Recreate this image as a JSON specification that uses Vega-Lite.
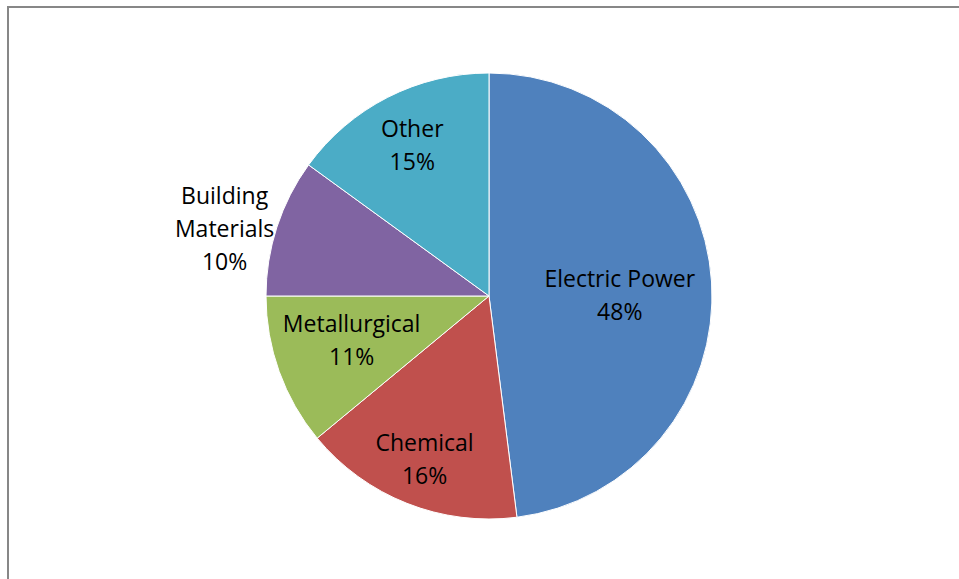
{
  "$schema": "https://vega.github.io/schema/vega-lite/v6.json",
  "autosize": "none",
  "width": 962,
  "height": 578,
  "padding": {"left": 8, "top": 7, "right": 0, "bottom": 0},
  "background": "white",
  "view": {"stroke": "#878787", "strokeWidth": 2},
  "data": {
    "values": [
      {"category": "Electric Power", "pct": 48},
      {"category": "Chemical", "pct": 16},
      {"category": "Metallurgical", "pct": 11},
      {"category": "Building Materials", "pct": 10},
      {"category": "Other", "pct": 15}
    ]
  },
  "transform": [
    {"window": [{"op": "row_number", "as": "idx"}]},
    {"stack": "pct", "groupby": [], "sort": [{"field": "idx"}], "as": ["t0", "t1"]},
    {"calculate": "(datum.t0 + datum.t1) / 2", "as": "tmid"},
    {"calculate": "(datum.category == 'Building Materials' ? 'Building|Materials' : datum.category) + '|' + datum.pct + '%'", "as": "label"}
  ],
  "layer": [
    {
      "mark": {"type": "arc", "radius": 223, "stroke": "white", "strokeWidth": 1},
      "encoding": {
        "theta": {"field": "t0", "type": "quantitative", "scale": {"domain": [0, 100]}},
        "theta2": {"field": "t1"},
        "color": {
          "field": "category",
          "type": "nominal",
          "sort": null,
          "scale": {
            "domain": ["Electric Power", "Chemical", "Metallurgical", "Building Materials", "Other"],
            "range": ["#4F81BD", "#C0504D", "#9BBB59", "#8064A2", "#4BACC6"]
          },
          "legend": null
        }
      }
    },
    {
      "transform": [{"filter": "datum.category == 'Electric Power'"}],
      "mark": {"type": "text", "radius": 131, "font": "Open Sans", "fontSize": 23, "lineBreak": "|", "lineHeight": 33, "color": "black", "dy": -8},
      "encoding": {"theta": {"field": "tmid", "type": "quantitative"}, "text": {"field": "label", "type": "nominal"}}
    },
    {
      "transform": [{"filter": "datum.category == 'Chemical'"}],
      "mark": {"type": "text", "radius": 175, "font": "Open Sans", "fontSize": 23, "lineBreak": "|", "lineHeight": 33, "color": "black", "dy": -15},
      "encoding": {"theta": {"field": "tmid", "type": "quantitative"}, "text": {"field": "label", "type": "nominal"}}
    },
    {
      "transform": [{"filter": "datum.category == 'Metallurgical'"}],
      "mark": {"type": "text", "radius": 146, "font": "Open Sans", "fontSize": 23, "lineBreak": "|", "lineHeight": 33, "color": "black", "dy": -20},
      "encoding": {"theta": {"field": "tmid", "type": "quantitative"}, "text": {"field": "label", "type": "nominal"}}
    },
    {
      "transform": [{"filter": "datum.category == 'Building Materials'"}],
      "mark": {"type": "text", "radius": 278, "font": "Open Sans", "fontSize": 23, "lineBreak": "|", "lineHeight": 33, "color": "black", "dy": -13},
      "encoding": {"theta": {"field": "tmid", "type": "quantitative"}, "text": {"field": "label", "type": "nominal"}}
    },
    {
      "transform": [{"filter": "datum.category == 'Other'"}],
      "mark": {"type": "text", "radius": 169, "font": "Open Sans", "fontSize": 23, "lineBreak": "|", "lineHeight": 33, "color": "black", "dy": -15},
      "encoding": {"theta": {"field": "tmid", "type": "quantitative"}, "text": {"field": "label", "type": "nominal"}}
    }
  ]
}
